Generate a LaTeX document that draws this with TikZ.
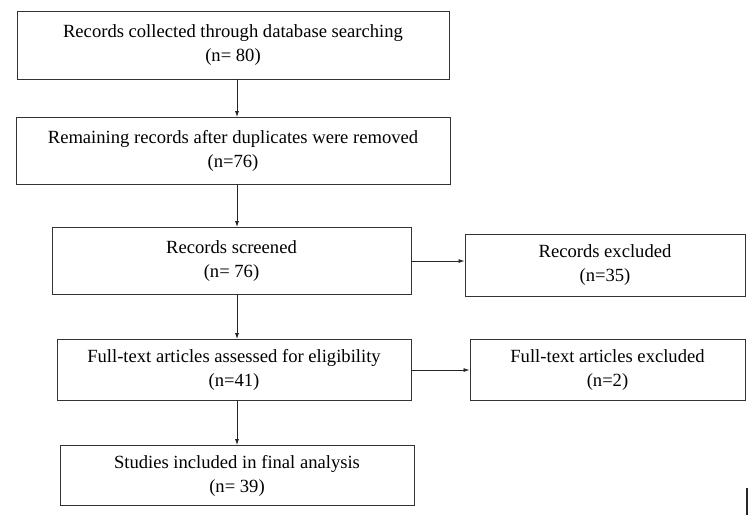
\documentclass[tikz,border=0pt]{standalone}
\usepackage{fontspec}
\setmainfont{Liberation Serif}
\usetikzlibrary{arrows.meta}

\begin{document}
\begin{tikzpicture}[x=1pt,y=-1pt,
    box/.style={draw=black!80, line width=0.9pt, align=center, inner sep=0pt,
      font=\fontsize{18.6}{24}\selectfont},
    link/.style={draw=black!85, line width=0.8pt, -{Latex[length=6pt,width=4pt]}}]
  \useasboundingbox (0,0) rectangle (750,520);
  \coordinate (spine) at (237,0);
  % main column
  \node[box, minimum width=432, minimum height=68] (collected) at (233,45)
    {Records collected through database searching\\(n= 80)};
  \node[box, minimum width=434, minimum height=67] (remaining) at (233,151)
    {Remaining records after duplicates were removed\\(n=76)};
  \node[box, minimum width=359, minimum height=67] (screened) at (231.5,261)
    {Records screened\\(n= 76)};
  \node[box, minimum width=354, minimum height=61] (fulltext) at (234,370)
    {Full-text articles assessed for eligibility\\(n=41)};
  \node[box, minimum width=354, minimum height=60] (included) at (237,475.5)
    {Studies included in final analysis\\(n= 39)};
  % exclusions
  \node[box, minimum width=280, minimum height=62] (recexcl) at (605,265.5)
    {Records excluded\\(n=35)};
  \node[box, minimum width=275, minimum height=61] (ftexcl) at (607.5,370)
    {Full-text articles excluded\\(n=2)};
  \draw[link] (collected.south -| spine) -- (remaining.north -| spine);
  \draw[link] (remaining.south -| spine) -- (screened.north -| spine);
  \draw[link] (screened.south -| spine) -- (fulltext.north -| spine);
  \draw[link] (fulltext.south -| spine) -- (included.north -| spine);
  \draw[link] (screened.east) -- (recexcl.west |- screened.east);
  \draw[link] (fulltext.east) -- (ftexcl.west);
  \draw[line width=2pt, black!85] (747,488) -- (747,515);
\end{tikzpicture}
\end{document}
